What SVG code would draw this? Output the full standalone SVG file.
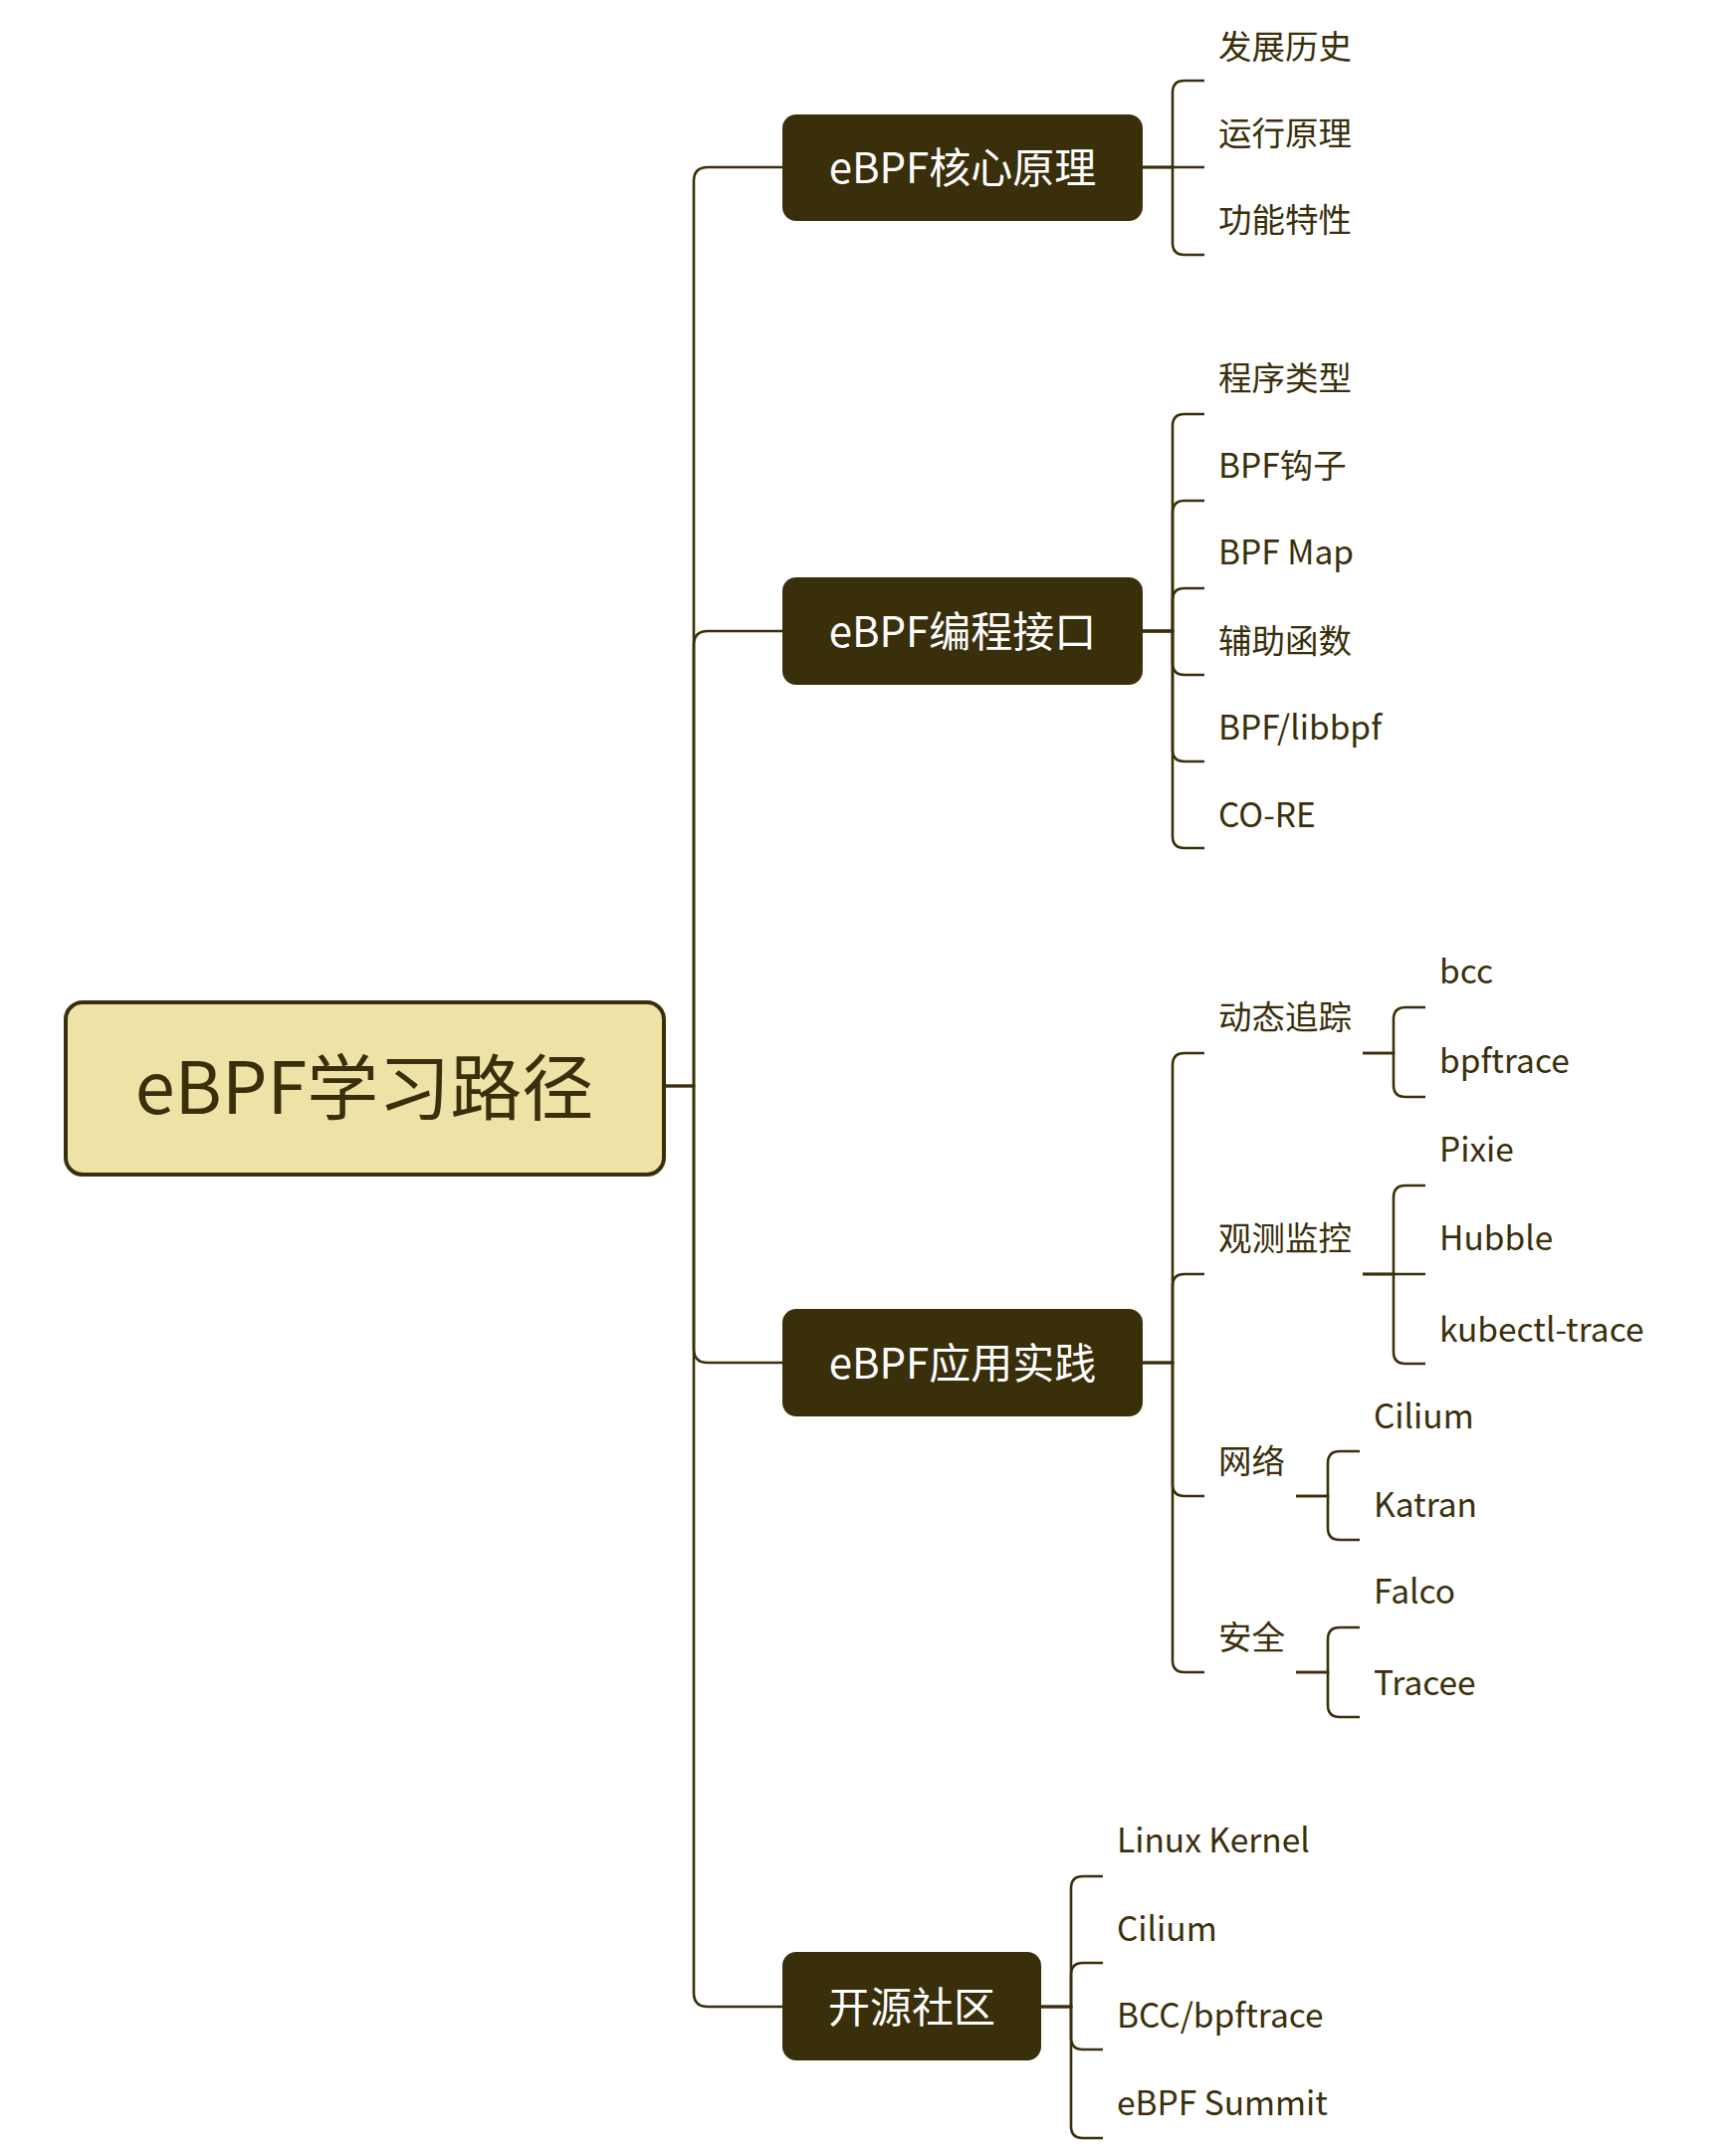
<svg xmlns="http://www.w3.org/2000/svg" width="1732" height="2166" viewBox="0 0 1732 2166">
<style>
text{font-family:"Noto Sans CJK SC","Noto Sans",sans-serif;dominant-baseline:central}
.root{fill:#efe2a6;stroke:#3a2f0b;stroke-width:4}
.rt{font-size:72px;fill:#3a2f0b;text-anchor:middle}
.br{fill:#3a2f0b}
.bt{font-size:42px;fill:#ffffff;text-anchor:middle}
.ct{font-size:33.5px;fill:#3a2f0b}
.cn{fill:none;stroke:#3a2f0b;stroke-width:2.6}
</style>
<rect width="1732" height="2166" fill="#ffffff"/>
<g id="connectors" class="cn">
<path d="M667,1091 H697 V182 Q697,168 711,168 H786"/>
<path d="M667,1091 H697 V648 Q697,634 711,634 H786"/>
<path d="M667,1091 H697 V1355 Q697,1369 711,1369 H786"/>
<path d="M667,1091 H697 V2002 Q697,2016 711,2016 H786"/>
<path d="M1148,168 H1178 V93 Q1178,81 1190,81 H1210"/>
<path d="M1148,168 H1210"/>
<path d="M1148,168 H1178 V244 Q1178,256 1190,256 H1210"/>
<path d="M1148,634 H1178 V428 Q1178,416 1190,416 H1210"/>
<path d="M1148,634 H1178 V515 Q1178,503 1190,503 H1210"/>
<path d="M1148,634 H1178 V603 Q1178,591 1190,591 H1210"/>
<path d="M1148,634 H1178 V666 Q1178,678 1190,678 H1210"/>
<path d="M1148,634 H1178 V753 Q1178,765 1190,765 H1210"/>
<path d="M1148,634 H1178 V840 Q1178,852 1190,852 H1210"/>
<path d="M1148,1369 H1178 V1070 Q1178,1058 1190,1058 H1210"/>
<path d="M1148,1369 H1178 V1292 Q1178,1280 1190,1280 H1210"/>
<path d="M1148,1369 H1178 V1491 Q1178,1503 1190,1503 H1210"/>
<path d="M1148,1369 H1178 V1668 Q1178,1680 1190,1680 H1210"/>
<path d="M1369,1058 H1400 V1024 Q1400,1012 1412,1012 H1432"/>
<path d="M1369,1058 H1400 V1090 Q1400,1102 1412,1102 H1432"/>
<path d="M1369,1280 H1400 V1203 Q1400,1191 1412,1191 H1432"/>
<path d="M1369,1280 H1432"/>
<path d="M1369,1280 H1400 V1358 Q1400,1370 1412,1370 H1432"/>
<path d="M1302,1503 H1334 V1470 Q1334,1458 1346,1458 H1366"/>
<path d="M1302,1503 H1334 V1535 Q1334,1547 1346,1547 H1366"/>
<path d="M1302,1680 H1334 V1647 Q1334,1635 1346,1635 H1366"/>
<path d="M1302,1680 H1334 V1713 Q1334,1725 1346,1725 H1366"/>
<path d="M1046,2016 H1076 V1897 Q1076,1885 1088,1885 H1108"/>
<path d="M1046,2016 H1076 V1984 Q1076,1972 1088,1972 H1108"/>
<path d="M1046,2016 H1076 V2047 Q1076,2059 1088,2059 H1108"/>
<path d="M1046,2016 H1076 V2136 Q1076,2148 1088,2148 H1108"/>
</g>
<g id="root"><rect class="root" x="66" y="1007" width="601" height="173" rx="17"/><text class="rt" x="366" y="1087">eBPF学习路径</text></g>
<g id="b1"><rect class="br" x="786" y="115" width="362" height="107" rx="14"/><text class="bt" x="967" y="165">eBPF核心原理</text></g>
<g id="b2"><rect class="br" x="786" y="580" width="362" height="108" rx="14"/><text class="bt" x="967" y="631">eBPF编程接口</text></g>
<g id="b3"><rect class="br" x="786" y="1315" width="362" height="108" rx="14"/><text class="bt" x="967" y="1366">eBPF应用实践</text></g>
<g id="b4"><rect class="br" x="786" y="1961" width="260" height="109" rx="14"/><text class="bt" x="916" y="2013">开源社区</text></g>
<g id="c1"><text class="ct" x="1224" y="44">发展历史</text></g>
<g id="c2"><text class="ct" x="1224" y="131">运行原理</text></g>
<g id="c3"><text class="ct" x="1224" y="218">功能特性</text></g>
<g id="c4"><text class="ct" x="1224" y="377">程序类型</text></g>
<g id="c5"><text class="ct" x="1224" y="465">BPF钩子</text></g>
<g id="c6"><text class="ct" x="1224" y="552">BPF Map</text></g>
<g id="c7"><text class="ct" x="1224" y="641">辅助函数</text></g>
<g id="c8"><text class="ct" x="1224" y="728">BPF/libbpf</text></g>
<g id="c9"><text class="ct" x="1224" y="816">CO-RE</text></g>
<g id="c10"><text class="ct" x="1224" y="1019">动态追踪</text></g>
<g id="c11"><text class="ct" x="1224" y="1241">观测监控</text></g>
<g id="c12"><text class="ct" x="1224" y="1465">网络</text></g>
<g id="c13"><text class="ct" x="1224" y="1642">安全</text></g>
<g id="g1"><text class="ct" x="1446" y="973">bcc</text></g>
<g id="g2"><text class="ct" x="1446" y="1063">bpftrace</text></g>
<g id="g3"><text class="ct" x="1446" y="1152">Pixie</text></g>
<g id="g4"><text class="ct" x="1446" y="1241">Hubble</text></g>
<g id="g5"><text class="ct" x="1446" y="1333">kubectl-trace</text></g>
<g id="g6"><text class="ct" x="1380" y="1420">Cilium</text></g>
<g id="g7"><text class="ct" x="1380" y="1509">Katran</text></g>
<g id="g8"><text class="ct" x="1380" y="1596">Falco</text></g>
<g id="g9"><text class="ct" x="1380" y="1688">Tracee</text></g>
<g id="d1"><text class="ct" x="1122" y="1846">Linux Kernel</text></g>
<g id="d2"><text class="ct" x="1122" y="1935">Cilium</text></g>
<g id="d3"><text class="ct" x="1122" y="2022">BCC/bpftrace</text></g>
<g id="d4"><text class="ct" x="1122" y="2110">eBPF Summit</text></g>
</svg>
